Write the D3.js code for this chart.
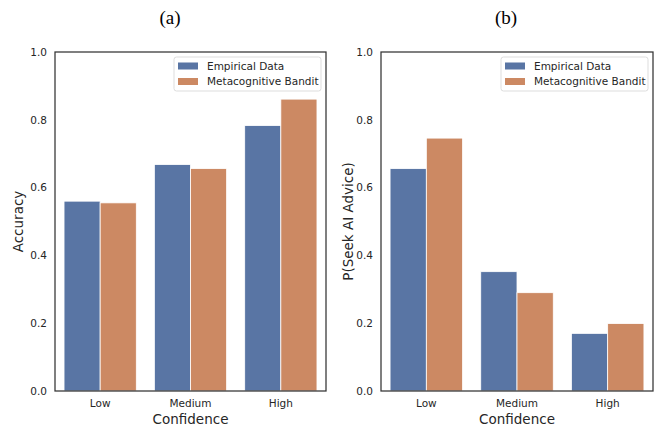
<!DOCTYPE html>
<html>
<head>
<meta charset="utf-8">
<script src="https://cdn.jsdelivr.net/npm/d3@7"></script>
<style>
  body { margin: 0; background: #fff; }
  svg text { font-family: "DejaVu Sans", sans-serif; fill: #262626; }
</style>
</head>
<body>
<div id="chart"></div>
<script>
var categories = ["Low", "Medium", "High"];
var seriesNames = ["Empirical Data", "Metacognitive Bandit"];
var accuracyEmpirical = [0.560, 0.668, 0.783];
var accuracyBandit    = [0.555, 0.656, 0.861];
var seekEmpirical     = [0.656, 0.352, 0.170];
var seekBandit        = [0.746, 0.290, 0.199];
var yTicks = [0.0, 0.2, 0.4, 0.6, 0.8, 1.0];

var colors = ["#5975a4", "#cc8963"];

var width = 662, height = 427;
var svg = d3.select("#chart").append("svg")
  .attr("width", width)
  .attr("height", height);

var panels = [
  { title: "(a)", titleX: 170, ylabel: "Accuracy", left: 55, right: 326, labelX: 18,
    series: [accuracyEmpirical, accuracyBandit] },
  { title: "(b)", titleX: 506, ylabel: "P(Seek AI Advice)", left: 381, right: 653, labelX: 348,
    series: [seekEmpirical, seekBandit] }
];

var plotTop = 52, plotBottom = 391;

panels.forEach(function(p) {
  var x = d3.scaleBand()
    .domain(categories)
    .range([p.left, p.right])
    .paddingInner(0.2)
    .paddingOuter(0.1);

  var xs = d3.scaleBand()
    .domain(d3.range(seriesNames.length))
    .range([0, x.bandwidth()]);

  var y = d3.scaleLinear().domain([0, 1]).range([plotBottom, plotTop]);

  var g = svg.append("g");

  // bars
  p.series.forEach(function(vals, si) {
    g.selectAll(".bar" + si)
      .data(categories.map(function(c, i) { return { cat: c, v: vals[i] }; }))
      .enter().append("rect")
      .attr("class", "bar" + si)
      .attr("x", function(d) { return x(d.cat) + xs(si); })
      .attr("y", function(d) { return y(d.v); })
      .attr("width", xs.bandwidth())
      .attr("height", function(d) { return y(0) - y(d.v); })
      .attr("fill", colors[si])
      .attr("stroke", "#fff")
      .attr("stroke-width", 0.8);
  });

  // frame
  g.append("rect")
    .attr("x", p.left).attr("y", plotTop)
    .attr("width", p.right - p.left).attr("height", plotBottom - plotTop)
    .attr("fill", "none")
    .attr("stroke", "#333")
    .attr("stroke-width", 1.25);

  // y axis
  var yAxis = d3.axisLeft(y).tickValues(yTicks).tickFormat(d3.format(".1f"))
    .tickSize(0).tickPadding(8);
  var ya = g.append("g").attr("transform", "translate(" + p.left + ",0)").call(yAxis);
  ya.select(".domain").remove();
  ya.selectAll("text").style("font-size", "10.5px").attr("fill", "#333");

  // x axis
  var xAxis = d3.axisBottom(x).tickSize(0).tickPadding(9);
  var xa = g.append("g").attr("transform", "translate(0," + plotBottom + ")").call(xAxis);
  xa.select(".domain").remove();
  xa.selectAll("text").style("font-size", "10.5px").attr("fill", "#333");

  // axis labels
  g.append("text")
    .attr("x", (p.left + p.right) / 2).attr("y", 424)
    .attr("text-anchor", "middle")
    .style("font-size", "13.5px")
    .text("Confidence");

  g.append("text")
    .attr("transform", "translate(" + p.labelX + "," + ((plotTop + plotBottom) / 2) + ") rotate(-90)")
    .attr("text-anchor", "middle")
    .attr("dy", "0.35em")
    .style("font-size", "13.5px")
    .text(p.ylabel);

  // title
  g.append("text")
    .attr("x", p.titleX).attr("y", 24)
    .attr("text-anchor", "middle")
    .style("font-family", "'Liberation Serif', 'Times New Roman', serif")
    .style("font-size", "19px")
    .style("fill", "#000")
    .text(p.title);

  // legend
  var lx = p.right - 152, ly = 57;
  var leg = g.append("g");
  leg.append("rect")
    .attr("x", lx).attr("y", ly)
    .attr("width", 147).attr("height", 34)
    .attr("rx", 2.5)
    .attr("fill", "#fff")
    .attr("fill-opacity", 0.8)
    .attr("stroke", "#ddd")
    .attr("stroke-width", 1);
  seriesNames.forEach(function(name, i) {
    var cy = ly + 9 + i * 15.5;
    leg.append("rect")
      .attr("x", lx + 4).attr("y", cy - 3.5)
      .attr("width", 20).attr("height", 7)
      .attr("fill", colors[i]);
    leg.append("text")
      .attr("x", lx + 33).attr("y", cy)
      .attr("dy", "0.35em")
      .style("font-size", "10.5px")
      .text(name);
  });
});
</script>
</body>
</html>
